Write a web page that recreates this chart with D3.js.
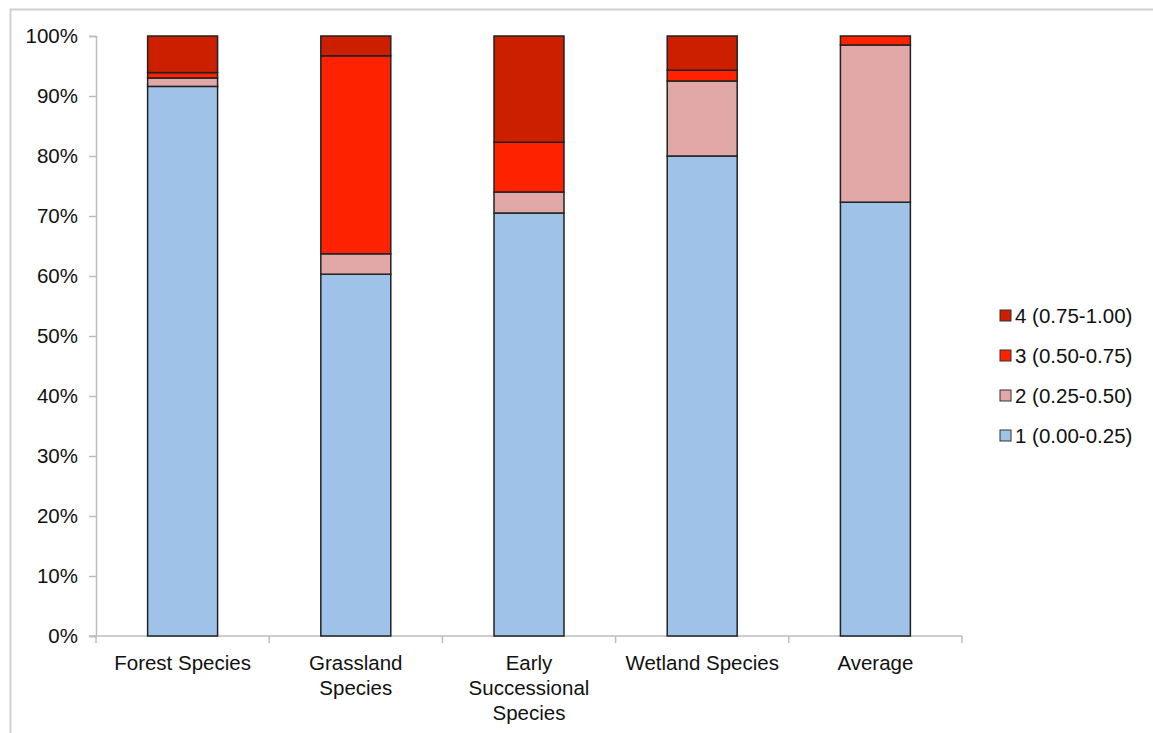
<!DOCTYPE html>
<html><head><meta charset="utf-8">
<script src="https://cdn.jsdelivr.net/npm/d3@7"></script>
<style>body{margin:0;background:#fff;} svg{display:block;font-family:"Liberation Sans",Arial,sans-serif;}</style>
</head><body>
<script>
const categories = [["Forest Species"],["Grassland","Species"],["Early","Successional","Species"],["Wetland Species"],["Average"]];
const catKeys = ["Forest Species","Grassland Species","Early Successional Species","Wetland Species","Average"];
const seriesNames = ["1 (0.00-0.25)","2 (0.25-0.50)","3 (0.50-0.75)","4 (0.75-1.00)"];
const s1 = [91.6, 60.3, 70.5, 80.0, 72.3];
const s2 = [1.4, 3.4, 3.5, 12.5, 26.2];
const s3 = [0.9, 33.0, 8.3, 1.8, 1.5];
const s4 = [6.1, 3.3, 17.7, 5.7, 0.0];
const colors = ["#9fc2e8","#e2a8a8","#ff2200","#cc1f00"];
const yTicks = [0,10,20,30,40,50,60,70,80,90,100];

const W=1153,H=733, FS=20.5;
const svg=d3.select("body").append("svg").attr("width",W).attr("height",H);
// frame
svg.append("path").attr("d",`M10.5,${H} L10.5,9.5 L${W},9.5`).attr("fill","none").attr("stroke","#cfcfcf").attr("stroke-width",2);

const pLeft=96,pRight=962,pTop=36,pBottom=636;
const x=d3.scaleBand().domain(catKeys).range([pLeft,pRight]).paddingInner(0.596).paddingOuter(0.298);
const y=d3.scaleLinear().domain([0,100]).range([pBottom,pTop]);

const data=catKeys.map((k,i)=>({key:k,s0:s1[i],s1:s2[i],s2:s3[i],s3:s4[i]}));
const stack=d3.stack().keys(["s0","s1","s2","s3"])(data);

// axes
const yAxis=svg.append("g").attr("transform",`translate(${pLeft},0)`)
  .call(d3.axisLeft(y).tickValues(yTicks).tickFormat(d=>d+"%").tickSize(7).tickPadding(11));
yAxis.selectAll("line,path").attr("stroke","#bdbdbd").attr("stroke-width",1.5);
yAxis.selectAll("text").attr("font-size",FS).attr("fill","#111").attr("font-family","Liberation Sans, Arial, sans-serif");

const bx=d3.scaleLinear().domain([0,5]).range([pLeft,pRight]);
const xg=svg.append("g");
xg.append("line").attr("x1",pLeft-7).attr("x2",pRight).attr("y1",pBottom).attr("y2",pBottom).attr("stroke","#bdbdbd").attr("stroke-width",1.5);
xg.selectAll("line.t").data(d3.range(0,6)).enter().append("line").attr("class","t")
  .attr("x1",d=>bx(d)).attr("x2",d=>bx(d)).attr("y1",pBottom).attr("y2",pBottom+7).attr("stroke","#bdbdbd").attr("stroke-width",1.5);

// bars
stack.forEach((layer,li)=>{
  svg.append("g").selectAll("rect").data(layer.filter(d=>d[1]-d[0]>0)).enter().append("rect")
    .attr("x",d=>x(d.data.key)).attr("width",x.bandwidth())
    .attr("y",d=>y(d[1])).attr("height",d=>y(d[0])-y(d[1]))
    .attr("fill",colors[li]).attr("stroke","#222").attr("stroke-width",1.5);
});

// category labels
categories.forEach((lines,i)=>{
  const cx=x(catKeys[i])+x.bandwidth()/2;
  const t=svg.append("text").attr("x",cx).attr("y",670)
    .attr("text-anchor","middle").attr("font-size",FS).attr("fill","#111");
  lines.forEach((l,j)=>t.append("tspan").attr("x",cx).attr("dy",j===0?0:25).text(l));
});

// legend
const lg=svg.append("g");
const order=[3,2,1,0];
order.forEach((si,j)=>{
  const yy=317+j*40;
  lg.append("rect").attr("x",1000).attr("y",yy-7).attr("width",11).attr("height",11)
    .attr("fill",colors[si]).attr("stroke","#333").attr("stroke-width",1);
  lg.append("text").attr("x",1015).attr("y",yy+6).attr("font-size",FS).attr("fill","#111").text(seriesNames[si]);
});
</script>
</body></html>
